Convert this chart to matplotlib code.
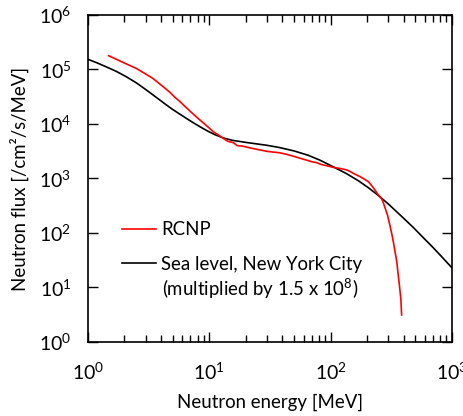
import matplotlib; matplotlib.use("Agg")
import matplotlib.pyplot as plt
from matplotlib.ticker import LogLocator, NullLocator, LogFormatterSciNotation
from matplotlib.lines import Line2D

plt.rcParams["font.family"] = ["Lato", "DejaVu Sans"]
plt.rcParams["mathtext.default"] = "regular"

# RCNP beam spectrum [MeV], [/cm2/s/MeV]
rcnp_e = [1.48, 2.0, 2.49, 2.9, 3.41, 4.0, 4.68, 5.2, 5.73, 6.34, 7.3, 8.38, 9.5,
          10.8, 12.0, 13.0, 14.2, 15.8, 17.0, 18.5, 21.0, 24.6, 29.7, 34.8, 37.8,
          44.0, 50.9, 56.0, 62.0, 69.8, 76.7, 84.0, 92.0, 105, 120, 128, 136, 145,
          154, 165, 175, 190, 205, 218, 232, 247, 264, 272, 281, 295, 309, 320,
          329, 340, 351, 361, 372, 380, 385]
rcnp_flux = [1.79e5, 1.31e5, 1.05e5, 8.6e4, 6.9e4, 5.2e4, 3.9e4, 3.1e4, 2.57e4,
             2.08e4, 1.55e4, 1.18e4, 9.3e3, 7.2e3, 6.2e3, 5.47e3, 4.8e3, 4.54e3,
             4.0e3, 3.95e3, 3.7e3, 3.43e3, 3.15e3, 3.02e3, 2.97e3, 2.75e3, 2.51e3,
             2.35e3, 2.2e3, 2.03e3, 1.95e3, 1.8e3, 1.72e3, 1.6e3, 1.52e3, 1.48e3,
             1.43e3, 1.34e3, 1.24e3, 1.15e3, 1.08e3, 970, 873, 740, 615, 500, 421,
             360, 290, 210, 135, 95, 69, 45, 30, 17, 9.5, 5.9, 3.13]

# terrestrial spectrum at sea level, NYC (scaled by 1.5e8)
nyc_e = [1.0, 1.2, 1.41, 1.7, 2.06, 2.5, 3.0, 3.6, 4.4, 5.0, 5.73, 6.5, 7.4, 8.38,
         9.6, 11.1, 13.0, 15.5, 20.3, 29.7, 37.8, 50.0, 65.5, 82.0, 105, 135, 169,
         205, 247, 300, 398, 481, 581, 700, 830, 1000]
nyc_flux = [1.54e5, 1.31e5, 1.12e5, 9.3e4, 7.4e4, 5.7e4, 4.27e4, 3.16e4, 2.26e4,
            1.84e4, 1.51e4, 1.26e4, 1.05e4, 8.9e3, 7.5e3, 6.38e3, 5.56e3, 5.01e3,
            4.57e3, 4.07e3, 3.7e3, 3.2e3, 2.66e3, 2.16e3, 1.64e3, 1.23e3, 912,
            676, 490, 339, 188, 126, 82, 54, 36, 23]

RED = "#ff0000"; BLACK = "#000000"
FS = 13.4

fig = plt.figure(figsize=(4.63, 4.16), dpi=100)
ax = fig.add_axes([0.190, 0.178, 0.786, 0.786])

ax.plot(nyc_e, nyc_flux, color=BLACK, lw=1.2)
ax.plot(rcnp_e, rcnp_flux, color=RED, lw=1.2)

ax.set_xscale("log"); ax.set_yscale("log")
ax.set_xlim(1, 1e3); ax.set_ylim(1, 1e6)
ax.xaxis.set_major_locator(LogLocator(base=10, numticks=10))
ax.xaxis.set_minor_locator(LogLocator(base=10, subs=range(2, 10), numticks=20))
ax.yaxis.set_major_locator(LogLocator(base=10, numticks=10))
ax.yaxis.set_minor_locator(NullLocator())
ax.xaxis.set_major_formatter(LogFormatterSciNotation())
ax.yaxis.set_major_formatter(LogFormatterSciNotation())

ax.tick_params(which="both", direction="in", top=True, right=True, width=1,
               labelsize=14, colors="black")
ax.tick_params(which="major", length=7)
ax.tick_params(which="minor", length=5)
ax.tick_params(axis="y", which="major", pad=12)
ax.tick_params(axis="x", which="major", pad=14)
for s in ax.spines.values():
    s.set_linewidth(1.2)

ax.set_xlabel("Neutron energy [MeV]", fontsize=FS, labelpad=8)
ax.set_ylabel("Neutron flux [/cm²/s/MeV]", fontsize=FS, labelpad=7)

handles = [Line2D([], [], color=RED, lw=1.2), Line2D([], [], color=BLACK, lw=1.2)]
ax.legend(handles, ["RCNP", "Sea level, New York City"], loc="upper left",
          bbox_to_anchor=(0.068, 0.398), frameon=False, fontsize=FS,
          handlelength=1.85, handletextpad=0.25, labelspacing=0.95, borderpad=0)
ax.text(0.472, 0.163, "(multiplied by 1.5 x 10$^8$)", transform=ax.transAxes,
        ha="center", va="center", fontsize=FS)

fig.savefig("out.png", dpi=100, facecolor="white")
